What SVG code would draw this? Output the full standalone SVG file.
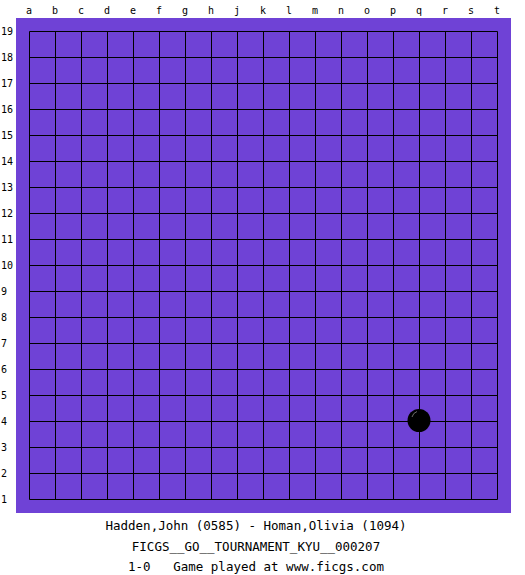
<svg xmlns="http://www.w3.org/2000/svg" width="525" height="575" viewBox="0 0 525 575">
<style>
.lbl{font-family:"DejaVu Sans Mono","Liberation Mono",monospace;font-size:10px;fill:#000}
.col{text-anchor:middle}
.info{font-family:"DejaVu Sans Mono","Liberation Mono",monospace;font-size:12.5px;fill:#000;text-anchor:middle;white-space:pre}
.grid{stroke:#000;stroke-width:1;fill:none}
</style>
<rect width="525" height="575" fill="#fff"/>
<g id="board">
<rect x="16" y="18" width="495" height="495" fill="#6f42d6"/>
<path class="grid" d="M29.5 31.5V499.5M55.5 31.5V499.5M81.5 31.5V499.5M107.5 31.5V499.5M133.5 31.5V499.5M159.5 31.5V499.5M185.5 31.5V499.5M211.5 31.5V499.5M237.5 31.5V499.5M263.5 31.5V499.5M289.5 31.5V499.5M315.5 31.5V499.5M341.5 31.5V499.5M367.5 31.5V499.5M393.5 31.5V499.5M419.5 31.5V499.5M445.5 31.5V499.5M471.5 31.5V499.5M497.5 31.5V499.5M29.5 31.5H497.5M29.5 57.5H497.5M29.5 83.5H497.5M29.5 109.5H497.5M29.5 135.5H497.5M29.5 161.5H497.5M29.5 187.5H497.5M29.5 213.5H497.5M29.5 239.5H497.5M29.5 265.5H497.5M29.5 291.5H497.5M29.5 317.5H497.5M29.5 343.5H497.5M29.5 369.5H497.5M29.5 395.5H497.5M29.5 421.5H497.5M29.5 447.5H497.5M29.5 473.5H497.5M29.5 499.5H497.5"/>
</g>
<g id="stone-q4">
<circle cx="419" cy="420.5" r="11.5" fill="#000"/>
<path d="M412 417 A8 8 0 0 1 417 411.5" stroke="#888" stroke-width="0.8" fill="none"/>
</g>
<g id="col-labels" class="lbl col">
<text x="29" y="14">a</text><text x="55" y="14">b</text><text x="81" y="14">c</text><text x="107" y="14">d</text><text x="133" y="14">e</text><text x="159" y="14">f</text><text x="185" y="14">g</text><text x="211" y="14">h</text><text x="237" y="14">j</text><text x="263" y="14">k</text><text x="289" y="14">l</text><text x="315" y="14">m</text><text x="341" y="14">n</text><text x="367" y="14">o</text><text x="393" y="14">p</text><text x="419" y="14">q</text><text x="445" y="14">r</text><text x="471" y="14">s</text><text x="497" y="14">t</text>
</g>
<g id="row-labels" class="lbl">
<text x="1" y="35">19</text><text x="1" y="61">18</text><text x="1" y="87">17</text><text x="1" y="113">16</text><text x="1" y="139">15</text><text x="1" y="165">14</text><text x="1" y="191">13</text><text x="1" y="217">12</text><text x="1" y="243">11</text><text x="1" y="269">10</text><text x="1" y="295">9</text><text x="1" y="321">8</text><text x="1" y="347">7</text><text x="1" y="373">6</text><text x="1" y="399">5</text><text x="1" y="425">4</text><text x="1" y="451">3</text><text x="1" y="477">2</text><text x="1" y="503">1</text>
</g>
<g id="info">
<text class="info" x="256" y="530">Hadden,John (0585) - Homan,Olivia (1094)</text>
<text class="info" x="256" y="550.5">FICGS__GO__TOURNAMENT_KYU__000207</text>
<text class="info" x="256" y="571" xml:space="preserve">1-0   Game played at www.ficgs.com</text>
</g>
</svg>
